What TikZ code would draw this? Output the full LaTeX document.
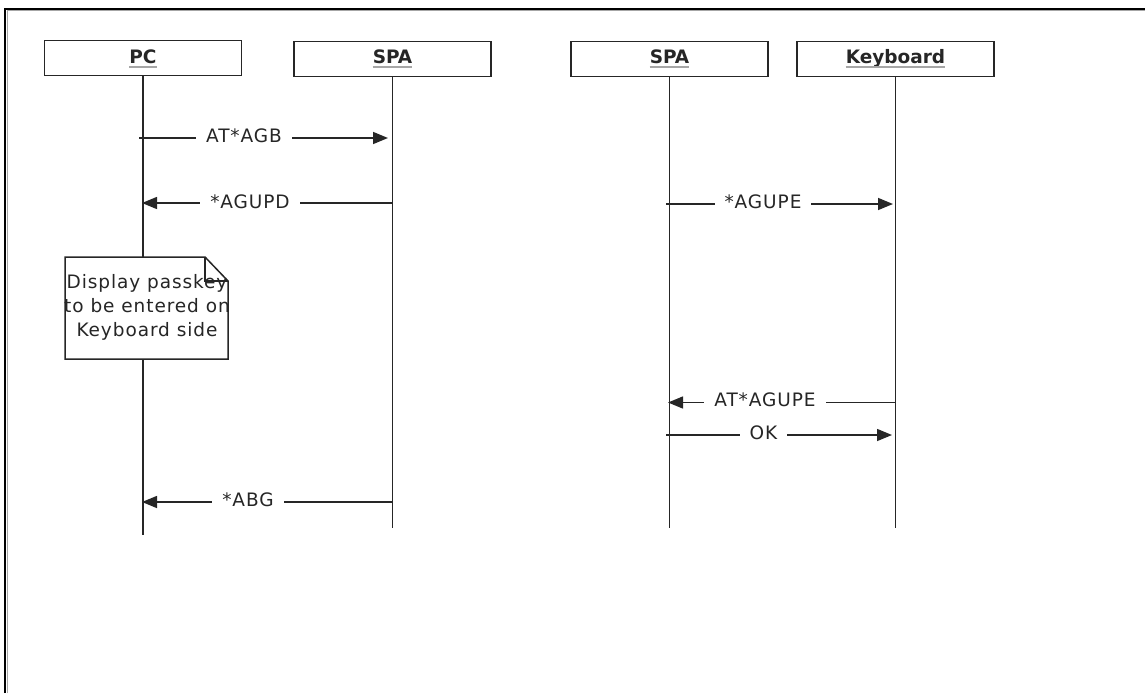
\documentclass[tikz,border=0pt]{standalone}
\usepackage{fontspec}
\setmainfont{DejaVu Sans}[LetterSpace=5]
\newfontfamily\hdfont{DejaVu Sans}
\usetikzlibrary{arrows.meta,calc}
\begin{document}
\begin{tikzpicture}[x=1pt,y=-1pt,
  every node/.style={font=\fontsize{18.5}{24}\selectfont, text=black!85},
  headbox/.style={draw=black!85, line width=1.5pt, fill=white, minimum width=197pt, minimum height=35pt, inner sep=0pt},
  headtxt/.style={font=\hdfont\fontsize{18.5}{22}\selectfont\bfseries, inner sep=0pt, anchor=base},
  uline/.style={draw=black!35, line width=1.8pt},
  life/.style={draw=black!85, line width=1.5pt},
  msg/.style={draw=black!85, line width=1.5pt, -{Triangle[length=15pt,width=12pt]}},
  lbl/.style={fill=white, inner xsep=10pt, inner ysep=1pt, anchor=base},
  notebox/.style={draw=black!85, line width=1.5pt, fill=white, line join=miter},
  notetxt/.style={align=center, inner sep=0pt}]
\useasboundingbox (0,0) rectangle (1145,693);
% frame
\draw[line width=2pt, black] (5,693) -- (5,9) -- (1145,9);
\draw[line width=1pt, black!35] (7,693) -- (7,11) -- (1145,11);
% heads
\node[headbox] (pc) at (143,58) {};
\node[headtxt] (pct) at (143,63.5) {PC};
\node[headbox] (spa1) at (392.5,59) {};
\node[headtxt] (spa1t) at (392.5,63.5) {SPA};
\node[headbox] (spa2) at (669.5,59) {};
\node[headtxt] (spa2t) at (669.5,63.5) {SPA};
\node[headbox] (kb) at (895.5,59) {};
\node[headtxt] (kbt) at (895.5,63.5) {Keyboard};
\foreach \t in {pct,spa1t,spa2t,kbt}
  \draw[uline] ($(\t.base west)+(0,3.5)$) -- ($(\t.base east)+(0,3.5)$);
% lifelines
\coordinate (pcend) at (143,535);
\coordinate (spa1end) at (392.5,528);
\coordinate (spa2end) at (669.5,528);
\coordinate (kbend) at (895.5,528);
\draw[life] (pc.south) -- (pcend);
\draw[life] (spa1.south) -- (spa1end);
\draw[life] (spa2.south) -- (spa2end);
\draw[life] (kb.south) -- (kbend);
% note
\coordinate (n1) at (65,257);
\coordinate (n2) at (205,257);
\coordinate (n3) at (228,281);
\coordinate (n4) at (228,359);
\coordinate (n5) at (65,359);
\coordinate (nf) at (205,281);
\draw[notebox] (n1) -- (n2) -- (n3) -- (n4) -- (n5) -- cycle;
\draw[life] (n2) -- (nf) -- (n3);
\node[notetxt] (notet) at (147,307) {Display passkey\\to be entered on\\Keyboard side};
% messages
\coordinate (m1a) at (139,138);   \coordinate (m1b) at (388,138);
\draw[msg] (m1a) -- (m1b);
\node[lbl] (l1) at (244,142) {AT*AGB};
\coordinate (m2a) at (392.5,203); \coordinate (m2b) at (142,203);
\draw[msg] (m2a) -- (m2b);
\node[lbl] (l2) at (250,208) {*AGUPD};
\coordinate (m3a) at (666,204);   \coordinate (m3b) at (893,204);
\draw[msg] (m3a) -- (m3b);
\node[lbl] (l3) at (763,208.5) {*AGUPE};
\coordinate (m4a) at (895.5,402.5); \coordinate (m4b) at (668,402.5);
\draw[msg] (m4a) -- (m4b);
\node[lbl] (l4) at (765,406) {AT*AGUPE};
\coordinate (m5a) at (666,435);   \coordinate (m5b) at (892,435);
\draw[msg] (m5a) -- (m5b);
\node[lbl] (l5) at (763.5,439) {OK};
\coordinate (m6a) at (392.5,502); \coordinate (m6b) at (142,502);
\draw[msg] (m6a) -- (m6b);
\node[lbl] (l6) at (248,506) {*ABG};
\end{tikzpicture}
\end{document}
